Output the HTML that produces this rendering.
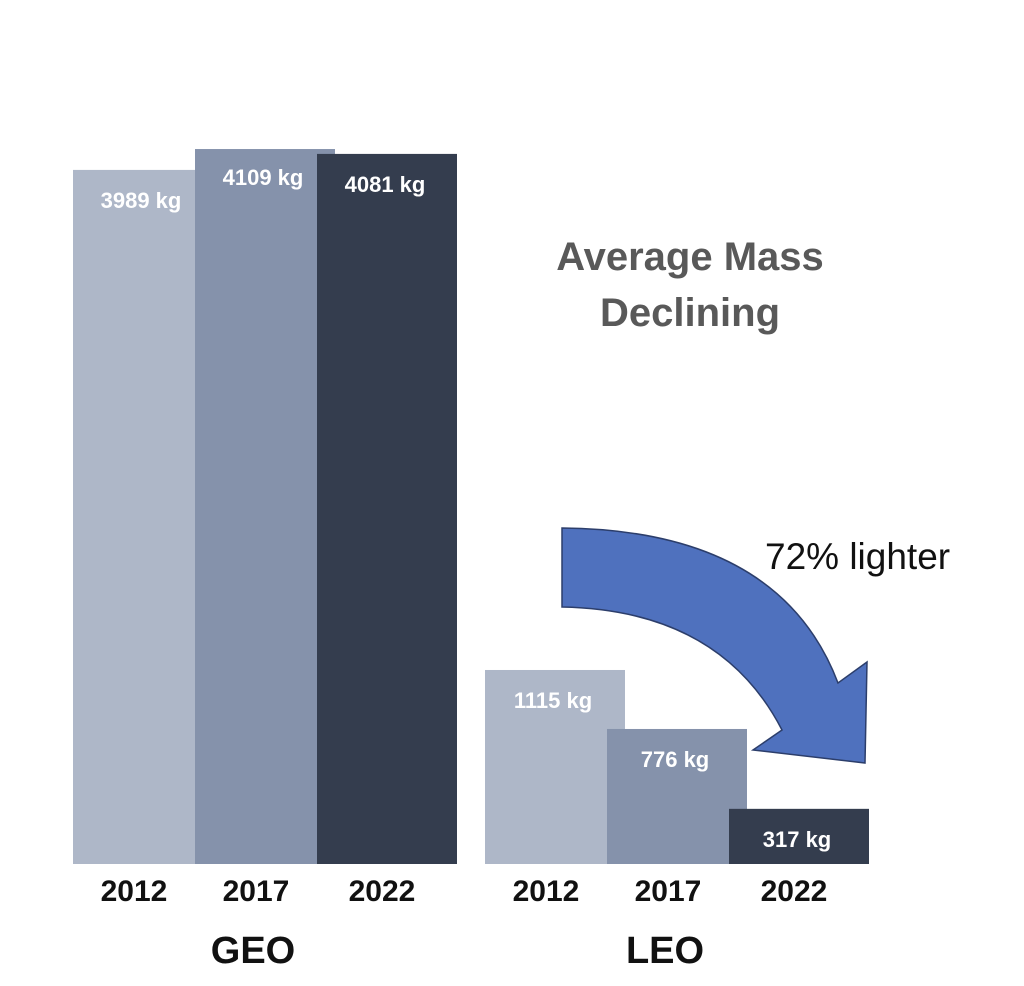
<!DOCTYPE html>
<html><head><meta charset="utf-8"><style>
body{margin:0;background:#fff;}
svg{display:block;font-family:"Liberation Sans",sans-serif;}
</style></head><body>
<svg width="1024" height="986" id="chart">
<text x="690" y="270" text-anchor="middle" font-size="40" font-weight="bold" fill="#595959">Average Mass</text>
<text x="690" y="326" text-anchor="middle" font-size="40" font-weight="bold" fill="#595959">Declining</text>
<path d="M562,528 Q780,530 838,683 L867,662 L865,763 L753,750 L782,730 Q720,610 562,607 Z" fill="#4f71be" stroke="#2c3e6b" stroke-width="1.5"/>
<text x="765" y="569" font-size="37" fill="#111">72% lighter</text>
<g id="bars"></g>
</svg>
<script>
const groups=["GEO","LEO"];
const years=["2012","2017","2022"];
const geoValues=[3989,4109,4081];
const leoValues=[1115,776,317];
const labels=[["3989 kg","4109 kg","4081 kg"],["1115 kg","776 kg","317 kg"]];
const colors=["#aeb7c8","#8592ab","#343d4e"];
const base=864, k=0.174;
const groupX=[73,485], step=122, bw=140;
function y(v){return base-v*k;}
const ns="http://www.w3.org/2000/svg";
const g=document.getElementById('bars');
[geoValues,leoValues].forEach((vals,gi)=>{
  vals.forEach((v,i)=>{
    const r=document.createElementNS(ns,'rect');
    const x=groupX[gi]+i*step;
    r.setAttribute('x',x);r.setAttribute('y',y(v));
    r.setAttribute('width',bw);r.setAttribute('height',base-y(v));
    r.setAttribute('fill',colors[i]);
    
    
    g.appendChild(r);
    const t=document.createElementNS(ns,'text');
    t.setAttribute('x',x+68);t.setAttribute('y',y(v)+(i==1&&gi==0?36:38));
    t.setAttribute('text-anchor','middle');t.setAttribute('font-size','22');
    t.setAttribute('font-weight','bold');t.setAttribute('fill','#fff');
    t.textContent=labels[gi][i];
    
    
    g.appendChild(t);
    const yl=document.createElementNS(ns,'text');
    yl.setAttribute('x',groupX[gi]+61+i*step+(i==2?4:0));yl.setAttribute('y',901);
    yl.setAttribute('text-anchor','middle');yl.setAttribute('font-size','30');
    yl.setAttribute('font-weight','bold');yl.setAttribute('fill','#111');
    yl.textContent=years[i];
    
    
    g.appendChild(yl);
  });
  const gl=document.createElementNS(ns,'text');
  gl.setAttribute('x',groupX[gi]+180);gl.setAttribute('y',963);
  gl.setAttribute('text-anchor','middle');gl.setAttribute('font-size','38');
  gl.setAttribute('font-weight','bold');gl.setAttribute('fill','#111');
  gl.textContent=groups[gi];
  
  
  g.appendChild(gl);
});
</script>
</body></html>
